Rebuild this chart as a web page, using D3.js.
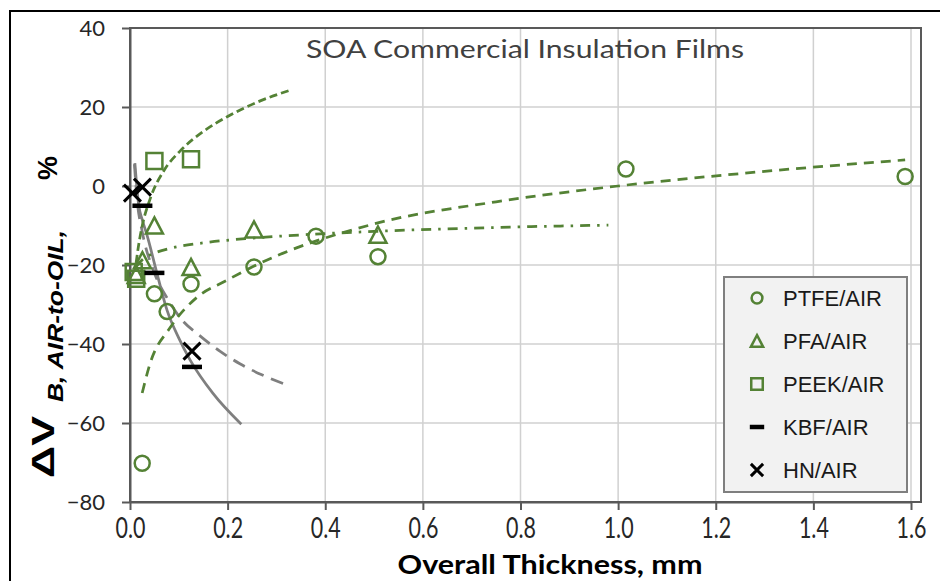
<!DOCTYPE html>
<html>
<head>
<meta charset="utf-8">
<script src="https://cdn.jsdelivr.net/npm/d3@7"></script>
<style>
  body { margin: 0; background: #fff; }
  svg { display: block; }
</style>
</head>
<body>
<svg id="chart" width="940" height="581"></svg>
<script>
// measured points, [thickness mm, dVb %]
const ptfe = [[0.025, -70.2], [0.05, -27.3], [0.076, -31.8], [0.125, -24.8], [0.254, -20.5],
  [0.381, -12.7], [0.508, -17.9], [1.016, 4.3], [1.588, 2.4]];
const pfa = [[0.0127, -22.5], [0.0254, -18.8], [0.05, -10], [0.125, -20.5], [0.254, -11], [0.508, -12.3]];
const peek = [[0.0076, -21.8], [0.0127, -23.5], [0.05, 6.3], [0.125, 6.8]];
const kbf = [[0.0254, -5], [0.05, -22], [0.127, -45.8]];
const hn = [[0.005, -1.8], [0.0254, -0.3], [0.127, -41.8]];

// trend lines
const ptfeTrend = [[0.025, -52.4], [0.041, -45], [0.082, -35.9], [0.137, -28.2], [0.198, -23.9],
  [0.252, -20.4], [0.5, -9.6], [0.75, -4], [1.0, 0], [1.3, 3.7], [1.588, 6.6]];
const pfaTrend = [[0.0125, -20.4], [0.025, -18.7], [0.05, -17], [0.082, -15.8], [0.15, -14.4],
  [0.25, -13.2], [0.347, -12.4], [0.5, -11.5], [0.75, -10.5], [0.98, -9.9]];
const peekTrend = [[0.0125, -19.5], [0.017, -15.5], [0.024, -10.7], [0.042, -3], [0.07, 4],
  [0.103, 8.9], [0.15, 13.8], [0.2, 17.6], [0.26, 21.2], [0.327, 24.2]];
const kbfTrend = [[0.009, 5.5], [0.015, -4], [0.025, -11.5], [0.05, -22], [0.079, -29],
  [0.103, -33.4], [0.144, -38], [0.184, -41.8], [0.225, -45], [0.27, -47.8], [0.327, -50.6]];
const hnTrend = [[0.01, 5.8], [0.018, -5], [0.025, -8.5], [0.035, -12.5], [0.055, -22], [0.076, -31.5],
  [0.1, -38.5], [0.123, -44], [0.17, -52.5], [0.228, -60.3]];

const xTicks = [0, 0.2, 0.4, 0.6, 0.8, 1.0, 1.2, 1.4, 1.6];
const yTicks = [-80, -60, -40, -20, 0, 20, 40];
const legendNames = ["PTFE/AIR", "PFA/AIR", "PEEK/AIR", "KBF/AIR", "HN/AIR"];

const green = "#548235";
const svg = d3.select("#chart");

const x = d3.scaleLinear().domain([0, 1.6]).range([130, 911]);
const y = d3.scaleLinear().domain([-80, 40]).range([502, 28]);

// outer frame
svg.append("rect")
  .attr("x", 10).attr("y", 11).attr("width", 960).attr("height", 620)
  .attr("fill", "none").attr("stroke", "#000").attr("stroke-width", 2);

// grid
svg.append("g").selectAll("line")
  .data(xTicks.slice(1))
  .join("line")
  .attr("x1", d => x(d)).attr("x2", d => x(d))
  .attr("y1", y(40)).attr("y2", y(-80))
  .attr("stroke", "#d0d0d0").attr("stroke-width", 1.5);
svg.append("g").selectAll("line")
  .data(yTicks.slice(1))
  .join("line")
  .attr("x1", x(0)).attr("x2", 921)
  .attr("y1", d => y(d)).attr("y2", d => y(d))
  .attr("stroke", "#d0d0d0").attr("stroke-width", 1.5);

// plot area border
svg.append("rect")
  .attr("x", x(0)).attr("y", y(40))
  .attr("width", 921 - x(0)).attr("height", y(-80) - y(40))
  .attr("fill", "none").attr("stroke", "#595959").attr("stroke-width", 2);

// axes
const yAxis = svg.append("g")
  .attr("transform", `translate(${x(0)},0)`)
  .call(d3.axisLeft(y).tickValues(yTicks).tickSize(8).tickPadding(17).tickSizeOuter(0));
const xAxis = svg.append("g")
  .attr("transform", `translate(0,${y(-80)})`)
  .call(d3.axisBottom(x).tickValues(xTicks).tickFormat(d3.format(".1f")).tickSize(8).tickPadding(7).tickSizeOuter(0));

[yAxis, xAxis].forEach(g => {
  g.select(".domain").attr("stroke", "#595959").attr("stroke-width", 2);
  g.selectAll(".tick line").attr("stroke", "#595959").attr("stroke-width", 2);
});
yAxis.selectAll("text")
  .attr("fill", "#262626")
  .style("font-family", "Lato, 'Open Sans', sans-serif")
  .style("font-size", "22px");
xAxis.selectAll("text")
  .attr("fill", "#262626")
  .attr("transform", "scale(0.74,1)")
  .style("font-family", "Lato, 'Open Sans', sans-serif")
  .style("font-size", "29px");

// trend lines
const line = d3.line()
  .x(d => x(d[0]))
  .y(d => y(d[1]))
  .curve(d3.curveMonotoneX);

const trends = [
  { data: hnTrend, color: "#7f7f7f", dash: null },
  { data: kbfTrend, color: "#7f7f7f", dash: "13,8" },
  { data: ptfeTrend, color: green, dash: "10,7" },
  { data: pfaTrend, color: green, dash: "10,7,2.5,7" },
  { data: peekTrend, color: green, dash: "8,4" }
];
svg.append("g").selectAll("path")
  .data(trends)
  .join("path")
  .attr("d", d => line(d.data))
  .attr("fill", "none")
  .attr("stroke", d => d.color)
  .attr("stroke-width", 2.75)
  .attr("stroke-dasharray", d => d.dash);

// marker shapes
function circlePath(s) { const r = s / 2; return `M${-r},0a${r},${r} 0 1,0 ${2 * r},0a${r},${r} 0 1,0 ${-2 * r},0`; }
function trianglePath(s) { const h = s * 0.95, w = s / 2; return `M0,${-h / 2}L${w},${h / 2}L${-w},${h / 2}Z`; }
function squarePath(s) { const r = s / 2; return `M${-r},${-r}H${r}V${r}H${-r}Z`; }
function dashPath(s) { const r = s / 2; return `M${-r},0H${r}`; }
function timesPath(s) { const r = s / 2; return `M${-r},${-r}L${r},${r}M${-r},${r}L${r},${-r}`; }

const series = [
  { data: ptfe, shape: circlePath, size: 15, color: green, width: 2.5 },
  { data: pfa, shape: trianglePath, size: 17, color: green, width: 2.5 },
  { data: peek, shape: squarePath, size: 16, color: green, width: 2.5 },
  { data: kbf, shape: dashPath, size: 20, color: "#000", width: 4.5 },
  { data: hn, shape: timesPath, size: 17, color: "#000", width: 3 }
];

series.forEach(s => {
  svg.append("g").selectAll("path")
    .data(s.data)
    .join("path")
    .attr("transform", d => `translate(${x(d[0])},${y(d[1])})`)
    .attr("d", s.shape(s.size))
    .attr("fill", "none")
    .attr("stroke", s.color)
    .attr("stroke-width", s.width);
});

// title
svg.append("text")
  .attr("x", 525).attr("y", 58)
  .attr("text-anchor", "middle")
  .attr("fill", "#404040")
  .attr("textLength", 438).attr("lengthAdjust", "spacingAndGlyphs")
  .style("font-family", "Lato, 'Open Sans', sans-serif")
  .style("font-size", "25px")
  .text("SOA Commercial Insulation Films");

// x axis title
svg.append("text")
  .attr("x", 550).attr("y", 574)
  .attr("text-anchor", "middle")
  .attr("fill", "#000")
  .attr("textLength", 305).attr("lengthAdjust", "spacingAndGlyphs")
  .style("font-family", "Lato, 'Open Sans', sans-serif")
  .style("font-weight", "bold")
  .style("font-size", "26px")
  .text("Overall Thickness, mm");

// y axis title (rotated; x in the rotated frame is minus the screen y)
const yTitle = svg.append("text")
  .attr("transform", "translate(54,0) rotate(-90)")
  .attr("fill", "#000")
  .style("font-family", "'Liberation Sans', Arial, sans-serif")
  .style("font-weight", "bold");
yTitle.append("tspan").attr("x", -478).attr("y", 0)
  .attr("textLength", 62).attr("lengthAdjust", "spacingAndGlyphs")
  .style("font-size", "32px").text("\u0394V");
yTitle.append("tspan").attr("x", -402).attr("y", 9)
  .attr("textLength", 172).attr("lengthAdjust", "spacingAndGlyphs")
  .style("font-size", "22px").style("font-style", "italic").text("B, AIR-to-OIL,");
yTitle.append("tspan").attr("x", -180).attr("y", 3)
  .style("font-size", "27px").text("%");

// legend
const legend = svg.append("g").attr("transform", "translate(724,277)");
legend.append("rect")
  .attr("width", 183).attr("height", 215)
  .attr("fill", "#f2f2f2").attr("stroke", "#7f7f7f").attr("stroke-width", 2);

const legendRows = legend.selectAll("g.row")
  .data(series.map((s, i) => ({ ...s, name: legendNames[i] })))
  .join("g")
  .attr("class", "row")
  .attr("transform", (d, i) => `translate(0,${21 + i * 43})`);

legendRows.append("path")
  .attr("transform", "translate(33,0)")
  .attr("d", d => d.shape(d.size * 0.72))
  .attr("fill", "none")
  .attr("stroke", d => d.color)
  .attr("stroke-width", d => d.width);

legendRows.append("text")
  .attr("x", 59).attr("y", 8)
  .attr("fill", "#1a1a1a")
  .style("font-family", "'Liberation Sans', Arial, sans-serif")
  .style("font-size", "22px")
  .text(d => d.name);
</script>
</body>
</html>
